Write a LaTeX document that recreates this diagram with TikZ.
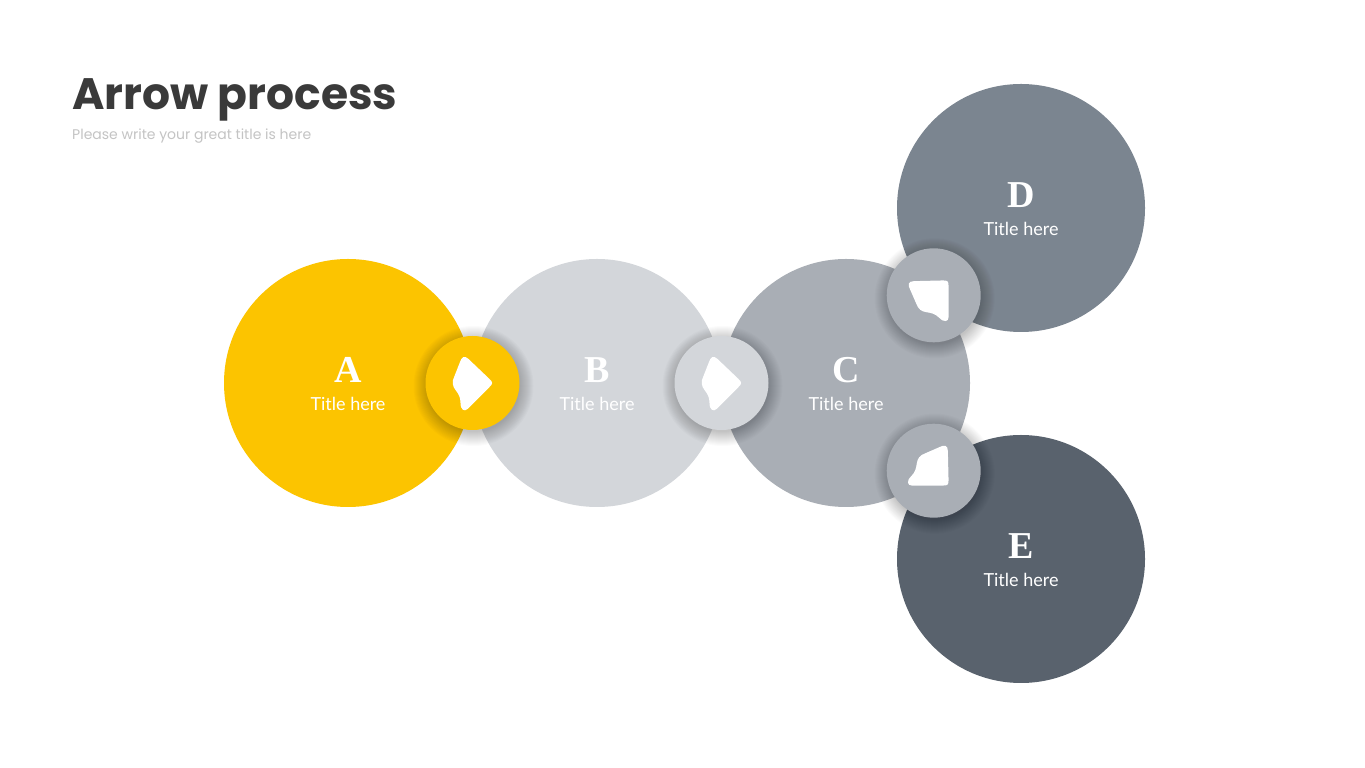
\documentclass[tikz,border=0pt]{standalone}
\usepackage{fontspec}
\setmainfont{Lato}
\newfontfamily\titlefont{Poppins}
\newfontfamily\letterfont{Liberation Serif}
\definecolor{cA}{HTML}{FCC400}
\definecolor{cB}{HTML}{D3D6DA}
\definecolor{cC}{HTML}{A9AEB5}
\definecolor{cD}{HTML}{7B8590}
\definecolor{cE}{HTML}{59626D}
\definecolor{titlecol}{HTML}{3A3A3A}
\definecolor{subcol}{HTML}{C4C4C4}
\tikzset{
  bigc/.style={circle, minimum size=248pt, inner sep=0pt, draw=none},
  smallc/.style={circle, minimum size=94pt, inner sep=0pt, draw=none},
  softshadow/.style={fill=black, opacity=0.017},
  letterlbl/.style={anchor=base, inner sep=0pt, text=white, font=\letterfont\bfseries\fontsize{38}{38}\selectfont},
  titlelbl/.style={anchor=base, inner sep=0pt, text=white, font=\fontsize{18}{18}\selectfont},
  arrowicon/.pic={
    \fill[white] (-5,-26) -- (17,-4) .. controls (20.5,-0.5) and (20.5,0.5) .. (17,4) -- (-4,24)
      .. controls (-8,28) and (-11,26) .. (-12.5,21)
      -- (-18,7)
      .. controls (-21,1) and (-20,-3) .. (-17,-7)
      .. controls (-14,-11) and (-12,-14) .. (-12,-20)
      .. controls (-12,-27) and (-8,-29) .. (-5,-26) -- cycle;
  }
}
\begin{document}
\begin{tikzpicture}[x=1pt,y=1pt]
\useasboundingbox (0,0) rectangle (1365,768);
\fill[white] (0,0) rectangle (1365,768);

\node[anchor=base west, inner sep=0pt, text=titlecol, font=\titlefont\bfseries\fontsize{44}{44}\selectfont] (title) at (72,658) {Arrow process};
\node[anchor=base west, inner sep=0pt, text=subcol, font=\titlefont\fontsize{14}{14}\selectfont] (subtitle) at (72,628) {Please write your great title is here};

\node[bigc, fill=cD] (D) at (1021,560) {};
\node[bigc, fill=cE] (E) at (1021,209) {};
\node[bigc, fill=cA] (A) at (348,385) {};
\node[bigc, fill=cB] (B) at (597,385) {};
\node[bigc, fill=cC] (C) at (846,385) {};

\foreach \n/\l in {A/A,B/B,C/C,D/D,E/E}{
  \node[letterlbl] (\n letter) at (\n.center) {\l};
  \node[titlelbl] (\n title) at ([yshift=-28pt]\n.center) {Title here};
}

\coordinate (pAB) at (472.5,385);
\coordinate (pBC) at (721.5,385);
\coordinate (pCD) at (933.7,472.7);
\coordinate (pCE) at (933.7,297.3);

\foreach \p in {pAB,pBC,pCD,pCE}{
  \foreach \r in {0,1,...,14}{
    \fill[softshadow] ([shift={(1,-3)}]\p) circle ({46+\r});
  }
}

\node[smallc, fill=cA] (AB) at (pAB) {};
\node[smallc, fill=cB] (BC) at (pBC) {};
\node[smallc, fill=cC] (CD) at (pCD) {};
\node[smallc, fill=cC] (CE) at (pCE) {};

\pic at (AB) {arrowicon};
\pic at (BC) {arrowicon};
\pic[rotate=45] at (CD) {arrowicon};
\pic[rotate=-45] at (CE) {arrowicon};
\end{tikzpicture}
\end{document}
